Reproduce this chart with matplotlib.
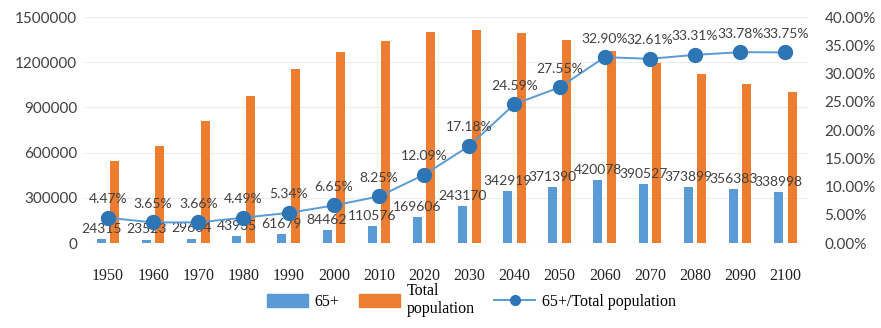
import matplotlib
matplotlib.use("Agg")
import matplotlib.pyplot as plt
import numpy as np
from matplotlib.lines import Line2D
from matplotlib.patches import Patch

years = ["1950", "1960", "1970", "1980", "1990", "2000", "2010", "2020",
         "2030", "2040", "2050", "2060", "2070", "2080", "2090", "2100"]
pop65 = [24315, 23523, 29604, 43935, 61679, 84462, 110576, 169606,
         243170, 342919, 371390, 420078, 390527, 373899, 356383, 338998]
total = [543960, 644466, 808852, 978508, 1155037, 1270105, 1340315, 1402862,
         1415425, 1394546, 1348058, 1276833, 1197568, 1122483, 1055012, 1004439]
ratio = [4.47, 3.65, 3.66, 4.49, 5.34, 6.65, 8.25, 12.09,
         17.18, 24.59, 27.55, 32.90, 32.61, 33.31, 33.78, 33.75]

BLUE = "#5B9BD5"
ORANGE = "#ED7D31"
DOT = "#2E75B6"
TXT = "#404040"

fig = plt.figure(figsize=(8.81, 3.28), dpi=100)
ax = fig.add_axes([0.097, 0.259, 0.82, 0.689])
x = np.arange(len(years))
w = 0.2
ax.bar(x - 0.15, pop65, width=w, color=BLUE, zorder=2)
ax.bar(x + 0.15, total, width=w, color=ORANGE, zorder=2)
ax.set_ylim(0, 1500000)
ax.set_xlim(-0.5, len(years) - 0.5)
ax.set_yticks(np.arange(0, 1500001, 300000))
ax.set_yticklabels([str(v) for v in range(0, 1500001, 300000)],
                   fontsize=11, color=TXT, family="Lato")
ax.set_xticks(x)
ax.set_xticklabels(years, fontsize=11.5, color="#222222", family="Liberation Serif")
ax.tick_params(length=0, pad=6)
ax.tick_params(axis="x", pad=18)
ax.grid(axis="y", color="#ececec", linewidth=0.8, zorder=0)
for s in ax.spines.values():
    s.set_visible(False)

for xi, v in zip(x, pop65):
    ax.annotate(str(v), (xi - 0.15, v), xytext=(0, 3), textcoords="offset points",
                ha="center", va="bottom", fontsize=10, color=TXT, family="Lato", zorder=5)

ax2 = ax.twinx()
ax2.plot(x, ratio, color=BLUE, linewidth=1.4, marker="o", markersize=10,
         markerfacecolor=DOT, markeredgecolor=DOT, zorder=4)
ax2.set_ylim(0, 40)
ax2.set_yticks(np.arange(0, 40.1, 5))
ax2.set_yticklabels(["%.2f%%" % v for v in np.arange(0, 40.1, 5)],
                    fontsize=11, color=TXT, family="Lato")
ax2.tick_params(length=0, pad=12)
for s in ax2.spines.values():
    s.set_visible(False)
for xi, v in zip(x, ratio):
    ax2.annotate("%.2f%%" % v, (xi, v), xytext=(0, 9), textcoords="offset points",
                 ha="center", va="bottom", fontsize=10, color=TXT, family="Lato", zorder=5)

handles = [Patch(color=BLUE), Patch(color=ORANGE),
           Line2D([0], [0], color=BLUE, marker="o", markersize=7,
                  markerfacecolor=DOT, markeredgecolor=DOT, linewidth=1.4)]
labels = ["65+", "Total\npopulation", "65+/Total population"]
fig.legend(handles, labels, loc="center", bbox_to_anchor=(0.535, 0.085), ncol=3,
           frameon=False, prop={"family": "Liberation Serif", "size": 11.5},
           handlelength=2.6, handleheight=0.9, columnspacing=1.2, handletextpad=0.4)

fig.savefig("out.png", dpi=100)
